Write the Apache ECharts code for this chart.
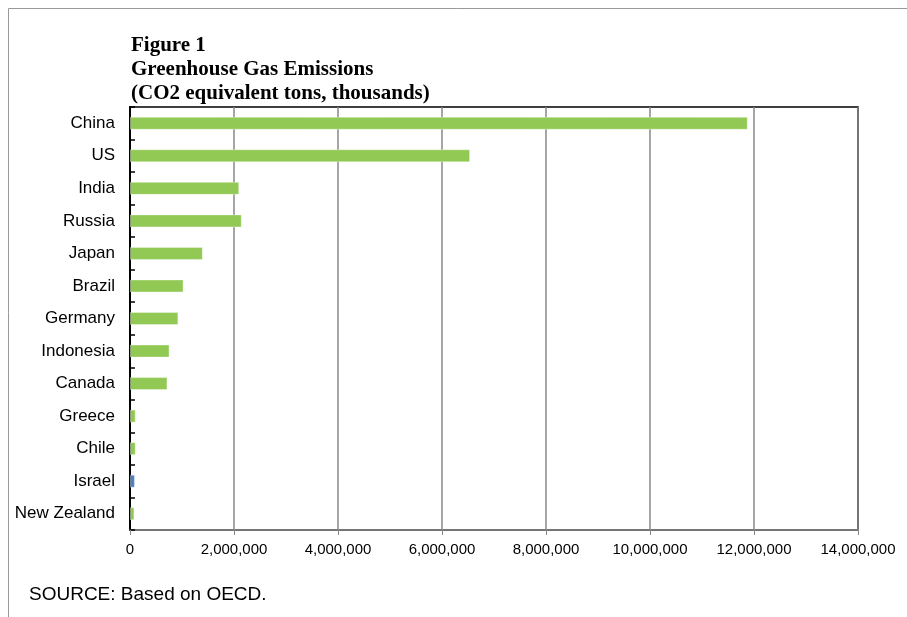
<!DOCTYPE html>
<html>
<head>
<meta charset="utf-8">
<script src="https://cdn.jsdelivr.net/npm/echarts@6/dist/echarts.min.js"></script>
<style>
  html, body { margin: 0; padding: 0; background: #fff; }
  #chart { width: 907px; height: 617px; }
</style>
</head>
<body>
<div id="chart"></div>
<script>
// Greenhouse gas emissions by country (CO2 equivalent tons, thousands)
const countries = ['China', 'US', 'India', 'Russia', 'Japan', 'Brazil', 'Germany',
  'Indonesia', 'Canada', 'Greece', 'Chile', 'Israel', 'New Zealand'];
const emissions = [11880000, 6540000, 2100000, 2150000, 1400000, 1030000, 930000,
  760000, 720000, 110000, 110000, 95000, 85000];
const highlighted = 'Israel';
const xTicks = [0, 2000000, 4000000, 6000000, 8000000, 10000000, 12000000, 14000000];

const GREEN = '#92c955';
const BLUE = '#4f81bd';

const chart = echarts.init(document.getElementById('chart'), null, { renderer: 'canvas' });

const fmt = v => v.toLocaleString('en-US');

chart.setOption({
  animation: false,
  backgroundColor: '#fff',
  title: {
    text: 'Figure 1\nGreenhouse Gas Emissions\n(CO2 equivalent tons, thousands)',
    left: 126,
    top: 29,
    textStyle: {
      fontFamily: '"Liberation Serif", "Times New Roman", serif',
      fontWeight: 'bold',
      fontSize: 21,
      lineHeight: 24,
      color: '#000'
    }
  },
  graphic: [
    { type: 'line', shape: { x1: 8.5, y1: 8.5, x2: 907, y2: 8.5 }, style: { stroke: '#999', lineWidth: 1 } },
    { type: 'line', shape: { x1: 8.5, y1: 8.5, x2: 8.5, y2: 617 }, style: { stroke: '#999', lineWidth: 1 } },
    {
      type: 'text', left: 29, top: 585,
      style: { text: 'SOURCE: Based on OECD.', font: '19px "Liberation Sans", Arial, sans-serif', fill: '#000' }
    }
  ],
  grid: {
    left: 130, right: 49, top: 107, bottom: 87,
    show: true, borderColor: '#000', borderWidth: 1.5
  },
  xAxis: {
    type: 'value',
    min: 0, max: 14000000, interval: 2000000,
    axisLine: { show: true, lineStyle: { color: '#888', width: 1.5 } },
    axisTick: { show: true, length: 5, lineStyle: { color: '#888' } },
    splitLine: { show: true, lineStyle: { color: '#888', width: 1.5 } },
    axisLabel: {
      margin: 12,
      color: '#000',
      fontFamily: '"Liberation Sans", Arial, sans-serif',
      fontSize: 15,
      formatter: v => xTicks.includes(v) ? fmt(v) : ''
    }
  },
  yAxis: {
    type: 'category',
    inverse: true,
    data: countries,
    axisLine: { show: true, lineStyle: { color: '#000', width: 2 } },
    axisTick: { show: true, inside: true, length: 5, lineStyle: { color: '#000', width: 1.5 } },
    axisLabel: {
      margin: 15,
      color: '#000',
      fontFamily: '"Liberation Sans", Arial, sans-serif',
      fontSize: 17,
      padding: [3, 0, 0, 0]
    }
  },
  series: [{
    type: 'bar',
    barWidth: 13,
    data: countries.map((c, i) => ({
      value: emissions[i],
      itemStyle: { color: c === highlighted ? BLUE : GREEN }
    })),
    itemStyle: { borderColor: 'rgba(255,255,255,0.35)', borderWidth: 1 }
  }]
});
</script>
</body>
</html>
